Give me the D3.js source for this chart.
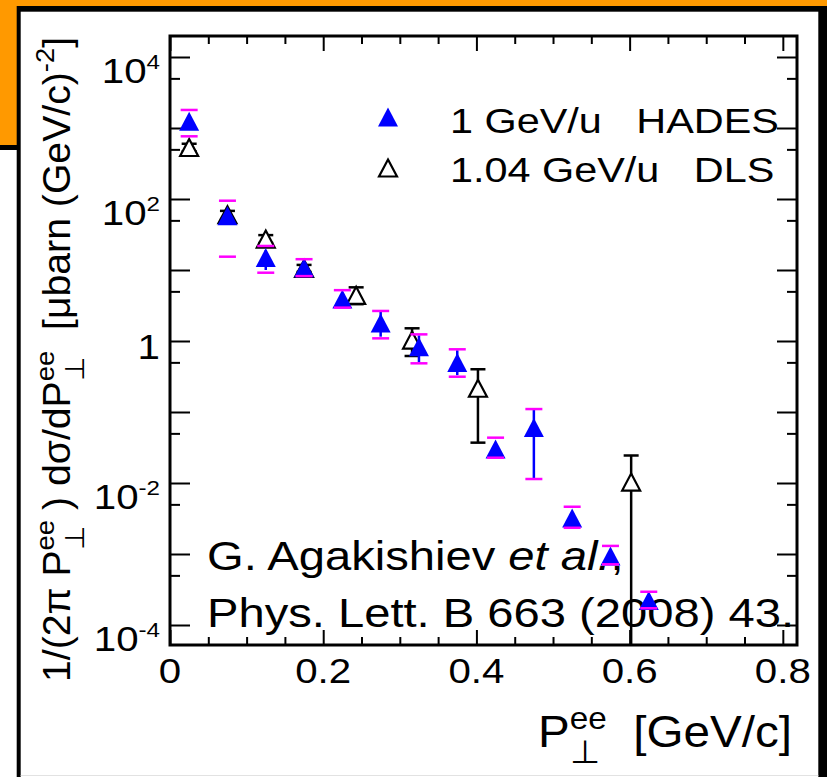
<!DOCTYPE html>
<html>
<head>
<meta charset="utf-8">
<script src="https://cdn.jsdelivr.net/npm/d3@7"></script>
<style>
html, body { margin: 0; padding: 0; background: #fff; }
svg { display: block; font-family: 'Liberation Sans', Arial, Helvetica, sans-serif; }
text { white-space: pre; }
</style>
</head>
<body>
<script>
"use strict";

// HADES 1 GeV/u: pT bin centres, values, stat (blue line) and sys (magenta caps)
const hadesX = [0.025, 0.075, 0.125, 0.175, 0.225, 0.275, 0.325, 0.375, 0.425, 0.475, 0.525, 0.575, 0.625];
const hadesY = [1247, 58, 15.0, 10.8, 3.9, 1.79, 0.83, 0.498, 0.0301, 0.0605, 0.00321, 0.000937, 0.000221];
const hadesStatLo = [1150, 50, 10.0, 9.5, 3.3, 1.15, 0.50, 0.33, 0.026, 0.0114, 0.0028, 0.00082, 0.00020];
const hadesStatHi = [1350, 67, 19.0, 12.5, 4.6, 2.6, 1.2, 0.74, 0.035, 0.110, 0.0037, 0.00107, 0.00025];
const hadesSysLo = [764, 15.4, 9.16, 8.2, 2.95, 1.09, 0.485, 0.314, 0.0227, 0.01138, 0.00234, 0.000716, 0.000172];
const hadesSysHi = [1795, 94.6, 21.8, 14.2, 5.2, 2.65, 1.24, 0.764, 0.0435, 0.110, 0.00463, 0.0013, 0.000294];

// DLS 1.04 GeV/u
const dlsX = [0.025, 0.075, 0.125, 0.175, 0.243, 0.316, 0.402, 0.602];
const dlsY = [531, 60, 27.3, 10.5, 4.4, 1.03, 0.216, 0.0103];
const dlsLo = [470, 52, 24, 9.4, 3.3, 0.615, 0.037, 1e-6];
const dlsHi = [600, 68, 31, 11.8, 5.7, 1.51, 0.40, 0.0244];

// Tick labels
const yLabelVals = [1e4, 1e2, 1, 1e-2, 1e-4];
const yLabelBase = ['10', '10', '1', '10', '10'];
const yLabelExp = ['4', '2', '', '-2', '-4'];
const yMajorTicks = [1e-4, 1e-3, 1e-2, 1e-1, 1, 1e1, 1e2, 1e3, 1e4];
const yMinorTicks = [5e-4, 5e-3, 5e-2, 5e-1, 5, 5e1, 5e2, 5e3];
const xLabelVals = [0, 0.2, 0.4, 0.6, 0.8];
const xLabels = ['0', '0.2', '0.4', '0.6', '0.8'];
const xMinorTicks = [0.05, 0.1, 0.15, 0.25, 0.3, 0.35, 0.45, 0.5, 0.55, 0.65, 0.7, 0.75];

const W = 827, H = 777;
const SX = 1.15;  // the slide is stretched a bit horizontally, so is its text
const frame = {left: 170, right: 797, top: 36, bottom: 645};

const svg = d3.select('body').append('svg')
    .attr('width', W)
    .attr('height', H);

// Slide decoration: orange corner, black-framed white panel
svg.append('rect').attr('x', 0).attr('y', 0).attr('width', W).attr('height', 150).attr('fill', '#000');
svg.append('rect').attr('x', 0).attr('y', 0).attr('width', W).attr('height', 145).attr('fill', '#FF9900');
svg.append('rect').attr('x', 16.7).attr('y', 6).attr('width', W).attr('height', H).attr('fill', '#000');
svg.append('rect').attr('x', 20.7).attr('y', 11.7).attr('width', 818.3 - 20.7).attr('height', H).attr('fill', '#fff');
svg.append('line').attr('x1', 20.7).attr('x2', 818.3).attr('y1', 775.5).attr('y2', 775.5)
    .attr('stroke', '#e2e2e2').attr('stroke-width', 1);

let x = d3.scaleLinear()
    .domain([0, 0.8185])
    .range([frame.left, frame.right]);
let y = d3.scaleLog()
    .domain([Math.pow(10, -4.2817), Math.pow(10, 4.2958)])
    .range([frame.bottom, frame.top])
    .clamp(true);

function tickAxis(axis, transform) {
    let g = svg.append('g').attr('transform', transform).call(axis);
    g.select('.domain').remove();
    g.selectAll('.tick text').remove();
    g.selectAll('.tick line').attr('stroke', '#000').attr('stroke-width', 2);
}

// Ticks point into the frame on all four sides
tickAxis(d3.axisRight(y).tickValues(yMajorTicks).tickSize(20).tickFormat(''), 'translate(' + frame.left + ',0)');
tickAxis(d3.axisRight(y).tickValues(yMinorTicks).tickSize(10).tickFormat(''), 'translate(' + frame.left + ',0)');
tickAxis(d3.axisLeft(y).tickValues(yMajorTicks).tickSize(20).tickFormat(''), 'translate(' + frame.right + ',0)');
tickAxis(d3.axisLeft(y).tickValues(yMinorTicks).tickSize(10).tickFormat(''), 'translate(' + frame.right + ',0)');
tickAxis(d3.axisTop(x).tickValues(xLabelVals).tickSize(15).tickFormat(''), 'translate(0,' + frame.bottom + ')');
tickAxis(d3.axisTop(x).tickValues(xMinorTicks).tickSize(8).tickFormat(''), 'translate(0,' + frame.bottom + ')');
tickAxis(d3.axisBottom(x).tickValues(xLabelVals).tickSize(15).tickFormat(''), 'translate(0,' + frame.top + ')');
tickAxis(d3.axisBottom(x).tickValues(xMinorTicks).tickSize(8).tickFormat(''), 'translate(0,' + frame.top + ')');

svg.append('rect')
    .attr('x', frame.left).attr('y', frame.top)
    .attr('width', frame.right - frame.left)
    .attr('height', frame.bottom - frame.top)
    .attr('fill', 'none')
    .attr('stroke', '#000')
    .attr('stroke-width', 3);

// Text made of pieces: plain, italic, superscript, or stacked sup over sub
function richText(px, py, parts, size, opts) {
    opts = opts || {};
    let tf = 'translate(' + px + ',' + py + ')';
    let g = svg.append('g').attr('transform', tf + ' scale(' + SX + ',1)' +
        (opts.rotate ? ' rotate(' + opts.rotate + ')' : ''));
    let text = g.append('text')
        .attr('font-size', size)
        .attr('fill', '#000')
        .attr('text-anchor', opts.anchor || 'start');
    let shift = 0, dx = 0;
    let supSize = opts.supSize || 0.7;
    function span(str, s, fs) {
        let ts = text.append('tspan')
            .attr('font-size', fs)
            .attr('dy', s - shift)
            .attr('dx', dx)
            .text(str);
        shift = s;
        dx = 0;
        return ts;
    }
    parts.forEach(function (p) {
        if (p.sub !== undefined) {
            let a = span(p.sup, -0.42 * size, supSize * size);
            let wa = a.node().getComputedTextLength();
            let b = span(p.sub, 0.36 * size, 0.72 * size);
            b.attr('dx', -wa);
            let wb = b.node().getComputedTextLength();
            dx = Math.max(wa - wb, 0);
        } else if (p.sup !== undefined) {
            span(p.sup, -(opts.supRaise || 0.42) * size, supSize * size);
        } else {
            let ts = span(p.t, 0, size);
            if (p.italic) ts.attr('font-style', 'italic');
        }
    });
    if (opts.fitWidth) {
        // Squeeze or stretch along the baseline to a measured length
        let len = text.node().getBBox().width;
        g.attr('transform', tf + ' scale(' + (opts.fitWidth / len) + ',1)');
    }
    return {g: g, text: text};
}

// Y tick labels
yLabelVals.forEach(function (v, i) {
    let parts = [{t: yLabelBase[i]}];
    if (yLabelExp[i]) parts.push({sup: yLabelExp[i]});
    let dy = yLabelExp[i] ? 26 : 18;
    richText(160, y(v) + dy, parts, 35, {anchor: 'end', supSize: 0.6, supRaise: 0.4});
});

// X tick labels
xLabelVals.forEach(function (v, i) {
    richText(x(v), 683, [{t: xLabels[i]}], 35, {anchor: 'middle'});
});

// Axis titles
richText(792, 747, [{t: 'P'}, {sup: 'ee', sub: '\u22A5'}, {t: '  [GeV/c]'}], 44,
    {anchor: 'end', fitWidth: 254});
let yTitle = richText(70, 682, [
    {t: '1/(2\u03C0 P'}, {sup: 'ee', sub: '\u22A5'},
    {t: ' ) d\u03C3/dP'}, {sup: 'ee', sub: '\u22A5'},
    {t: '  [\u03BCbarn (GeV/c)'}, {sup: '-2'}, {t: ']'}
], 33, {rotate: -90});
// Stretch the rotated title along its length to fill the side of the panel
let yLen = yTitle.text.node().getBBox().width;
yTitle.g.attr('transform', yTitle.g.attr('transform') + ' scale(' + (647 / yLen) + ',1)');

// Reference, drawn below the data points
richText(207, 570, [{t: 'G. Agakishiev '}, {t: 'et al.', italic: true}, {t: ','}], 41);
richText(207, 627, [{t: 'Phys. Lett. B 663 (2008) 43.'}], 41);

function triangle(w, h) {
    return 'M0,' + (-h / 2) + 'L' + (w / 2) + ',' + (h / 2) + 'L' + (-w / 2) + ',' + (h / 2) + 'Z';
}

// DLS: black error bars with caps, open triangles
let dls = svg.append('g');
dls.selectAll('line.err').data(dlsX).enter().append('line')
    .attr('x1', function (d) { return x(d); })
    .attr('x2', function (d) { return x(d); })
    .attr('y1', function (d, i) { return y(dlsLo[i]); })
    .attr('y2', function (d, i) { return y(dlsHi[i]); })
    .attr('stroke', '#000').attr('stroke-width', 2.5);
dls.selectAll('line.cap').data(dlsX.map(function (d, i) { return i; })
        .filter(function (i) { return dlsLo[i] > y.domain()[0]; })).enter().append('line')
    .attr('x1', function (i) { return x(dlsX[i]) - 7.5; })
    .attr('x2', function (i) { return x(dlsX[i]) + 7.5; })
    .attr('y1', function (i) { return y(dlsLo[i]); })
    .attr('y2', function (i) { return y(dlsLo[i]); })
    .attr('stroke', '#000').attr('stroke-width', 2.5);
dls.selectAll('line.caphi').data(dlsX).enter().append('line')
    .attr('x1', function (d) { return x(d) - 7.5; })
    .attr('x2', function (d) { return x(d) + 7.5; })
    .attr('y1', function (d, i) { return y(dlsHi[i]); })
    .attr('y2', function (d, i) { return y(dlsHi[i]); })
    .attr('stroke', '#000').attr('stroke-width', 2.5);
dls.selectAll('path').data(dlsX).enter().append('path')
    .attr('d', triangle(18, 17))
    .attr('transform', function (d, i) { return 'translate(' + x(d) + ',' + y(dlsY[i]) + ')'; })
    .attr('fill', '#fff').attr('stroke', '#000').attr('stroke-width', 2.2);

// HADES: blue stat bars, filled blue triangles, magenta sys caps
let hades = svg.append('g');
hades.selectAll('line.stat').data(hadesX).enter().append('line')
    .attr('x1', function (d) { return x(d); })
    .attr('x2', function (d) { return x(d); })
    .attr('y1', function (d, i) { return y(hadesStatLo[i]); })
    .attr('y2', function (d, i) { return y(hadesStatHi[i]); })
    .attr('stroke', '#0000FF').attr('stroke-width', 2.5);
hades.selectAll('path').data(hadesX).enter().append('path')
    .attr('d', triangle(20, 19))
    .attr('transform', function (d, i) { return 'translate(' + x(d) + ',' + y(hadesY[i]) + ')'; })
    .attr('fill', '#0000FF');
[hadesSysLo, hadesSysHi].forEach(function (arr) {
    hades.append('g').selectAll('line').data(hadesX).enter().append('line')
        .attr('x1', function (d) { return x(d) - 8.5; })
        .attr('x2', function (d) { return x(d) + 8.5; })
        .attr('y1', function (d, i) { return y(arr[i]); })
        .attr('y2', function (d, i) { return y(arr[i]); })
        .attr('stroke', '#FF00FF').attr('stroke-width', 2.5);
});

// Legend
svg.append('path').attr('d', triangle(20, 19))
    .attr('transform', 'translate(388,117)').attr('fill', '#0000FF');
svg.append('path').attr('d', triangle(18, 17))
    .attr('transform', 'translate(388,168)')
    .attr('fill', '#fff').attr('stroke', '#000').attr('stroke-width', 2.2);
richText(450, 133, [{t: '1 GeV/u   HADES'}], 36);
richText(450, 182, [{t: '1.04 GeV/u   DLS'}], 36);
</script>
</body>
</html>
